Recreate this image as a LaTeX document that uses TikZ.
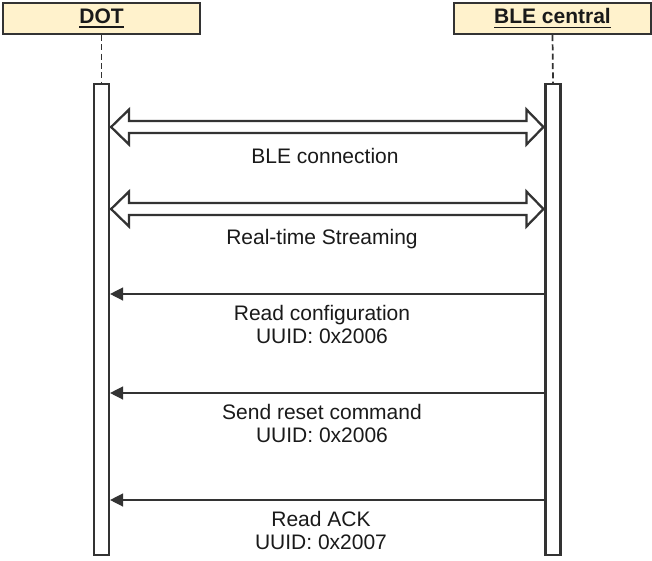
\documentclass[tikz,border=0pt]{standalone}
\usepackage{fontspec}
\setmainfont{Liberation Sans}
\usetikzlibrary{arrows.meta,calc}
\definecolor{strk}{HTML}{333333}
\definecolor{hdrfill}{HTML}{FFF2CC}
\definecolor{txt}{HTML}{1A1A1A}
\newcommand\hdrul[1]{\setbox0\hbox{#1}\rlap{\rule[-3.2pt]{\wd0}{1.2pt}}\box0}
\begin{document}
\begin{tikzpicture}[x=0.75pt,y=-0.75pt,
  font=\fontsize{15.75pt}{17.25pt}\selectfont,
  hdr/.style={draw=strk,fill=hdrfill,line width=1.3pt,minimum width=147.5pt,minimum height=23.5pt,inner sep=0pt,font=\fontsize{15.75pt}{17.25pt}\selectfont\bfseries,text=txt},
  bar/.style={draw=strk,fill=white,line width=1.6pt,minimum width=11.25pt,minimum height=353.25pt,inner sep=0pt},
  lifeline/.style={draw=strk,line width=1.3pt,dash pattern=on 4.5pt off 2.5pt},
  blk/.style={draw=strk,fill=white,line width=1.7pt,line join=miter},
  msg/.style={draw=strk,line width=1pt,-{Triangle[length=9.75pt,width=9.75pt]}},
  lbl/.style={text=txt,inner sep=0pt,align=center}]
\useasboundingbox (0,0) rectangle (652,560);
\fill[white] (0,0) rectangle (652,560);
% headers
\node[hdr] (dot) at (101.5,18.5) {\hdrul{DOT}};
\node[hdr] (ble) at (552.5,18.5) {\hdrul{BLE central}};
% activation bars
\node[bar] (dotbar) at (101.5,319.5) {};
\node[bar] (blebar) at (553,319.5) {};
\draw[lifeline] (dot.south) -- (dotbar.north);
\draw[lifeline] (ble.south) -- (blebar.north);
% rows
\coordinate (y1) at (0,127);
\coordinate (y2) at (0,209);
\coordinate (y3) at (0,294);
\coordinate (y4) at (0,393);
\coordinate (y5) at (0,500);
% block arrows
\foreach \r in {y1,y2}{
  \coordinate (a) at ($(dotbar.east |- \r)+(1,0)$);
  \coordinate (b) at ($(blebar.west |- \r)+(-1,0)$);
  \draw[blk] (a) -- ($(a)+(18,-17.5)$) -- ($(a)+(18,-6)$) -- ($(b)+(-17,-6)$) -- ($(b)+(-17,-17.5)$) -- (b)
    -- ($(b)+(-17,17.5)$) -- ($(b)+(-17,6)$) -- ($(a)+(18,6)$) -- ($(a)+(18,17.5)$) -- cycle;
}
\node[lbl,anchor=base] (l1) at (325,163.5) {BLE connection};
\node[lbl,anchor=base] (l2) at (322,244) {Real-time Streaming};
% messages
\draw[msg] (blebar.west |- y3) -- (dotbar.east |- y3);
\draw[msg] (blebar.west |- y4) -- (dotbar.east |- y4);
\draw[msg] (blebar.west |- y5) -- (dotbar.east |- y5);
\node[lbl,anchor=north] (l3) at (322,304.7) {Read configuration\\UUID: 0x2006};
\node[lbl,anchor=north] (l4) at (322,404) {Send reset command\\UUID: 0x2006};
\node[lbl,anchor=north] (l5) at (321,511.4) {Read ACK\\UUID: 0x2007};
\end{tikzpicture}
\end{document}
